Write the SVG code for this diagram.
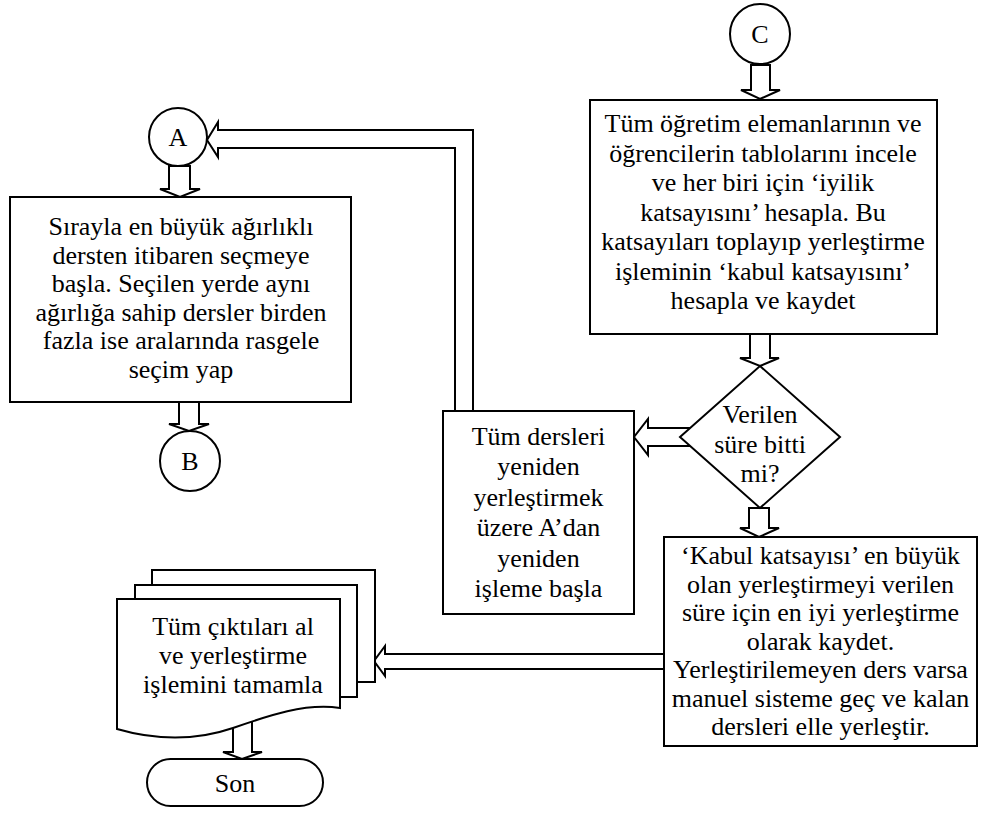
<svg xmlns="http://www.w3.org/2000/svg" width="1003" height="818" viewBox="0 0 1003 818">
<style>
.s{fill:#fff;stroke:#000;stroke-width:2}
.t{font-family:"Liberation Serif","Times New Roman",serif;font-size:26px;fill:#000;text-anchor:middle}
</style>
<rect width="1003" height="818" fill="#fff"/>
<g id="connectors">
<path class="s" d="M455,411 V148 H218 V157 L207,140 L218,122 V130 H473 V411"/>
<polygon class="s" points="169,166 190,166 190,189 200,189 180,197 160,189 169,189"/>
<polygon class="s" points="179,402 199,402 199,424 209,424 189,431 169,424 179,424"/>
<polygon class="s" points="751,65 770,65 770,90 780,90 760,99 741,90 751,90"/>
<polygon class="s" points="750,334 770,334 770,358 779,358 760,366 740,358 750,358"/>
<polygon class="s" points="749,508 769,508 769,528 779,528 759,537 740,528 749,528"/>
<polygon class="s" points="692,428 648,428 648,419 634,437 648,455 648,446 692,446"/>
<polygon class="s" points="664,654 385,654 385,646 374,661 385,676 385,669 664,669"/>
<polygon class="s" points="233,720 252,720 252,752 262,752 242,759 223,752 233,752"/>
</g>
<g id="nodeA">
<circle class="s" cx="178" cy="137" r="29"/>
<text class="t" x="178" y="146">A</text>
</g>
<g id="box1">
<rect class="s" x="10" y="197" width="341" height="205"/>
<text class="t"><tspan x="181" y="235">Sırayla en büyük ağırlıklı</tspan><tspan x="181" y="263.6">dersten itibaren seçmeye</tspan><tspan x="181" y="292.2">başla. Seçilen yerde aynı</tspan><tspan x="181" y="320.8">ağırlığa sahip dersler birden</tspan><tspan x="181" y="349.4">fazla ise aralarında rasgele</tspan><tspan x="181" y="378">seçim yap</tspan></text>
</g>
<g id="nodeB">
<circle class="s" cx="190" cy="461" r="30"/>
<text class="t" x="190" y="470">B</text>
</g>
<g id="nodeC">
<circle class="s" cx="760" cy="34" r="30"/>
<text class="t" x="760" y="43">C</text>
</g>
<g id="box3">
<rect class="s" x="590" y="100" width="347" height="234"/>
<text class="t"><tspan x="763" y="132">Tüm öğretim elemanlarının ve</tspan><tspan x="763" y="161.5">öğrencilerin tablolarını incele</tspan><tspan x="763" y="191">ve her biri için ‘iyilik</tspan><tspan x="763" y="220.5">katsayısını’ hesapla. Bu</tspan><tspan x="763" y="250">katsayıları toplayıp yerleştirme</tspan><tspan x="763" y="279.5">işleminin ‘kabul katsayısını’</tspan><tspan x="763" y="309">hesapla ve kaydet</tspan></text>
</g>
<g id="decision">
<polygon class="s" points="760,366 840,437 760,508 680,437"/>
<text class="t"><tspan x="760" y="423">Verilen</tspan><tspan x="760" y="452.5">süre bitti</tspan><tspan x="760" y="482">mi?</tspan></text>
</g>
<g id="box2">
<rect class="s" x="443" y="411" width="191" height="203"/>
<text class="t"><tspan x="538.5" y="445">Tüm dersleri</tspan><tspan x="538.5" y="475.4">yeniden</tspan><tspan x="538.5" y="505.8">yerleştirmek</tspan><tspan x="538.5" y="536.2">üzere A’dan</tspan><tspan x="538.5" y="566.6">yeniden</tspan><tspan x="538.5" y="597">işleme başla</tspan></text>
</g>
<g id="box4">
<rect class="s" x="664" y="537" width="313" height="209"/>
<text class="t"><tspan x="820.5" y="564">‘Kabul katsayısı’ en büyük</tspan><tspan x="820.5" y="592.5">olan yerleştirmeyi verilen</tspan><tspan x="820.5" y="621">süre için en iyi yerleştirme</tspan><tspan x="820.5" y="649.5">olarak kaydet.</tspan><tspan x="820.5" y="678">Yerleştirilemeyen ders varsa</tspan><tspan x="820.5" y="706.5">manuel sisteme geç ve kalan</tspan><tspan x="820.5" y="735">dersleri elle yerleştir.</tspan></text>
</g>
<g id="documents">
<rect class="s" x="152" y="570" width="223" height="112"/>
<rect class="s" x="135" y="585" width="222" height="112"/>
<path class="s" d="M117,599 H340 V708 C305,703 270,715 233,728 C195,741 155,740 117,729 Z"/>
<text class="t"><tspan x="233" y="635">Tüm çıktıları al</tspan><tspan x="233" y="664">ve yerleştirme</tspan><tspan x="233" y="693">işlemini tamamla</tspan></text>
</g>
<g id="son">
<rect class="s" x="147" y="759" width="176" height="47" rx="23.5"/>
<text class="t" x="235" y="792">Son</text>
</g>
</svg>
